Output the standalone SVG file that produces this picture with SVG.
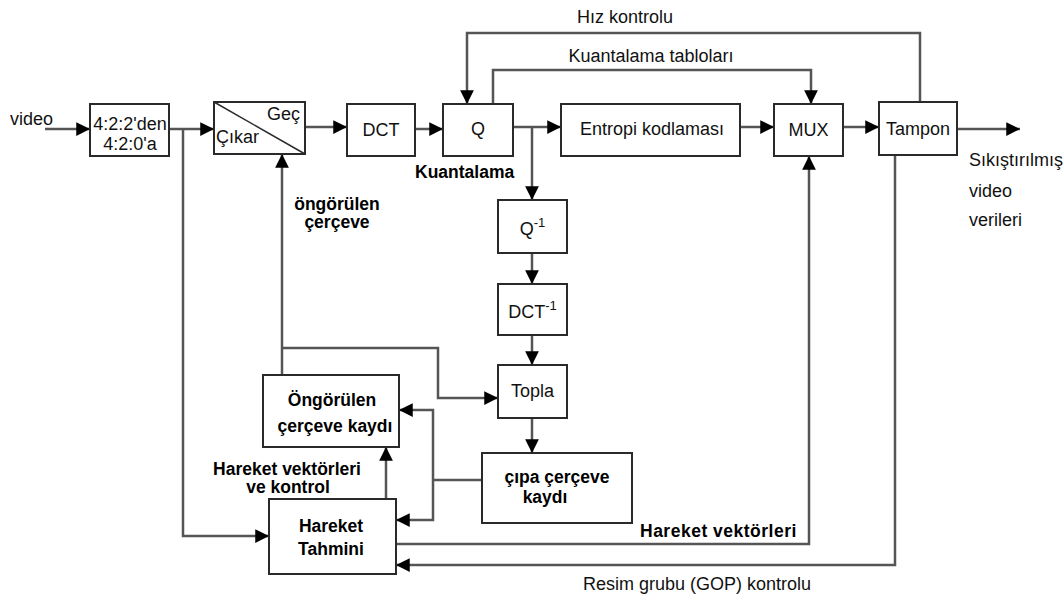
<svg xmlns="http://www.w3.org/2000/svg" width="1063" height="599" viewBox="0 0 1063 599">
  <style>
    .box { fill: #fff; stroke: #2a2a2a; stroke-width: 2; }
    .wire { fill: none; stroke: #555; stroke-width: 2.5; }
    .arr { marker-end: url(#ah); }
    .t { font-family: "Liberation Sans", Arial, sans-serif; font-size: 18px; fill: #111; }
    .b { font-family: "Liberation Sans", Arial, sans-serif; font-size: 17.5px; font-weight: bold; fill: #000; }
    .c { text-anchor: middle; }
  </style>
  <defs>
    <marker id="ah" viewBox="0 0 10 10" refX="10" refY="5" markerWidth="6" markerHeight="5.5" markerUnits="strokeWidth" orient="auto">
      <path d="M0,0 L10,5 L0,10 Z" fill="#000"/>
    </marker>
  </defs>

  <rect width="1063" height="599" fill="#fff"/>

  <!-- connectors -->
  <g id="connectors">
    <path class="wire arr" d="M45,129 H90"/>
    <path class="wire arr" d="M169,129 H214"/>
    <path class="wire arr" d="M183,129 V536 H269"/>
    <path class="wire arr" d="M305,127 H347"/>
    <path class="wire arr" d="M415,129 H443"/>
    <path class="wire arr" d="M513,127 H561"/>
    <path class="wire arr" d="M532,127 V200"/>
    <path class="wire arr" d="M740,127 H774"/>
    <path class="wire arr" d="M843,127 H879"/>
    <path class="wire arr" d="M957,129 H1020"/>
    <!-- rate control -->
    <path class="wire arr" d="M920,102 V33 H467 V104"/>
    <!-- quantiser tables -->
    <path class="wire arr" d="M493,104 V70 H811 V104"/>
    <!-- motion vectors to MUX -->
    <path class="wire arr" d="M396,544 H809 V156"/>
    <!-- GOP control -->
    <path class="wire arr" d="M895,155 V565 H396"/>
    <!-- inverse path -->
    <path class="wire arr" d="M532,253 V284"/>
    <path class="wire arr" d="M532,335 V365"/>
    <path class="wire arr" d="M532,418 V453"/>
    <!-- predicted frame feedback -->
    <path class="wire arr" d="M282,375 V154"/>
    <path class="wire arr" d="M282,348 H438 V398 H498"/>
    <!-- anchor frame store outputs -->
    <path class="wire" d="M482,480 H433"/>
    <path class="wire arr" d="M433,480 V410 H399"/>
    <path class="wire arr" d="M433,480 V520 H396"/>
    <path class="wire arr" d="M386,499 V447"/>
  </g>

  <!-- nodes -->
  <g id="n-convert">
    <rect class="box" x="90" y="104" width="79" height="52"/>
    <text class="t c" x="130" y="130" font-size="17">4:2:2'den</text>
    <text class="t c" x="130" y="150" font-size="17">4:2:0'a</text>
  </g>
  <g id="n-switch">
    <rect class="box" x="214" y="102" width="91" height="52"/>
    <line x1="214" y1="102" x2="305" y2="154" stroke="#2a2a2a" stroke-width="1.5"/>
    <text class="t" x="267" y="120">Geç</text>
    <text class="t" x="216" y="143">Çıkar</text>
  </g>
  <g id="n-dct">
    <rect class="box" x="347" y="104" width="68" height="52"/>
    <text class="t c" x="381" y="136">DCT</text>
  </g>
  <g id="n-q">
    <rect class="box" x="443" y="104" width="70" height="52"/>
    <text class="t c" x="478" y="135">Q</text>
  </g>
  <g id="n-entropy">
    <rect class="box" x="561" y="104" width="179" height="52"/>
    <text class="t c" x="652" y="135">Entropi kodlaması</text>
  </g>
  <g id="n-mux">
    <rect class="box" x="774" y="104" width="69" height="52"/>
    <text class="t c" x="808.5" y="136">MUX</text>
  </g>
  <g id="n-buffer">
    <rect class="box" x="879" y="102" width="78" height="53"/>
    <text class="t c" x="918" y="135">Tampon</text>
  </g>
  <g id="n-iq">
    <rect class="box" x="498" y="200" width="69" height="53"/>
    <text class="t c" x="532.5" y="235">Q<tspan font-size="13" dy="-8">-1</tspan></text>
  </g>
  <g id="n-idct">
    <rect class="box" x="498" y="284" width="69" height="51"/>
    <text class="t c" x="532.5" y="318">DCT<tspan font-size="13" dy="-8">-1</tspan></text>
  </g>
  <g id="n-add">
    <rect class="box" x="498" y="365" width="69" height="53"/>
    <text class="t c" x="532.5" y="397">Topla</text>
  </g>
  <g id="n-predstore">
    <rect class="box" x="263" y="375" width="136" height="72"/>
    <text class="b c" x="332" y="406">Öngörülen</text>
    <text class="b c" x="335" y="432">çerçeve kaydı</text>
  </g>
  <g id="n-anchor">
    <rect class="box" x="482" y="453" width="150" height="70"/>
    <text class="b c" x="557" y="483">çıpa çerçeve</text>
    <text class="b c" x="545" y="503">kaydı</text>
  </g>
  <g id="n-motion">
    <rect class="box" x="269" y="499" width="127" height="75"/>
    <text class="b c" x="331" y="532">Hareket</text>
    <text class="b c" x="331" y="555">Tahmini</text>
  </g>

  <!-- labels -->
  <g id="labels">
    <text class="t" x="10" y="125">video</text>
    <text class="t c" x="625" y="23">Hız kontrolu</text>
    <text class="t c" x="651" y="62">Kuantalama tabloları</text>
    <text class="b" x="415" y="178">Kuantalama</text>
    <text class="b c" x="337" y="210">öngörülen</text>
    <text class="b c" x="337" y="228">çerçeve</text>
    <text class="t" x="969" y="166" font-size="17">Sıkıştırılmış</text>
    <text class="t" x="969" y="197" font-size="17">video</text>
    <text class="t" x="969" y="226" font-size="17">verileri</text>
    <text class="b c" x="287" y="475">Hareket vektörleri</text>
    <text class="b c" x="288" y="493">ve kontrol</text>
    <text class="b" x="640" y="537" letter-spacing="0.5">Hareket vektörleri</text>
    <text class="t c" x="697" y="590">Resim grubu (GOP) kontrolu</text>
  </g>
</svg>
